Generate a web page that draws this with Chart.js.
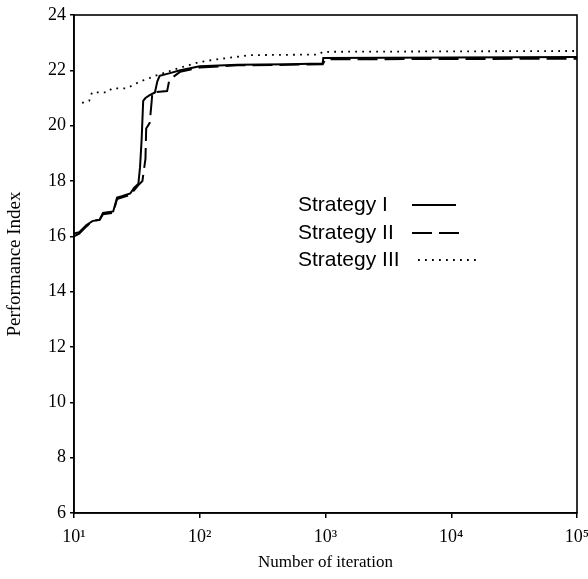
<!DOCTYPE html>
<html>
<head>
<meta charset="utf-8">
<script src="https://cdn.jsdelivr.net/npm/chart.js@4.4.0/dist/chart.umd.min.js"></script>
<style>
  html, body { margin: 0; padding: 0; background: #fff; }
</style>
</head>
<body>
<canvas id="myChart" width="588" height="579"></canvas>
<script>
// Performance index vs number of iteration (log x)

const seriesNames = ["Strategy I", "Strategy II", "Strategy III"];

const iterI = [10, 11, 12.5, 14, 16, 17, 20.5, 22, 24, 28, 30, 32.5, 33.5, 34.5, 35.5, 37, 40, 44, 46, 48, 58, 70, 100, 200, 500, 950, 960, 100000];
const perfI = [16.1, 16.15, 16.4, 16.55, 16.6, 16.85, 16.9, 17.4, 17.45, 17.55, 17.75, 17.9, 18.5, 19.5, 20.9, 21.0, 21.1, 21.2, 21.6, 21.8, 21.9, 22.0, 22.15, 22.2, 22.22, 22.25, 22.45, 22.48];

const iterII = [10, 11, 12.5, 14, 16, 17, 20.5, 22, 28, 32.5, 35, 37, 37.5, 40, 41.5, 42, 55, 57, 61, 70, 100, 200, 500, 950, 1000, 100000];
const perfII = [16.0, 16.1, 16.35, 16.55, 16.6, 16.8, 16.85, 17.35, 17.5, 17.85, 18.0, 18.8, 19.9, 20.1, 20.9, 21.2, 21.25, 21.6, 21.75, 21.95, 22.1, 22.18, 22.2, 22.22, 22.4, 22.42];

const iterIII = [11.6, 13.2, 13.9, 16, 18.3, 20.1, 26.4, 29.5, 33.6, 38.9, 44.2, 70, 100, 138, 252, 880, 950, 100000];
const perfIII = [20.82, 20.9, 21.2, 21.2, 21.2, 21.35, 21.35, 21.47, 21.6, 21.7, 21.8, 22.1, 22.3, 22.4, 22.55, 22.57, 22.67, 22.7];

const xTicks = [10, 100, 1000, 10000, 100000];
const xTickLabels = ["10\u00B9", "10\u00B2", "10\u00B3", "10\u2074", "10\u2075"];
const yTicks = [6, 8, 10, 12, 14, 16, 18, 20, 22, 24];

function toPoints(xs, ys) {
    return xs.map((x, i) => ({ x: x, y: ys[i] }));
}

const serif = "'Liberation Serif', 'Times New Roman', serif";

// box round the plot + legend inside (text first, line sample after it)
const legendRows = [205, 233, 260];
const legendLines = [[412, 456], [412, 460], [418, 478]];

const framePlugin = {
    id: 'frame',
    afterDraw(chart) {
        const ctx = chart.ctx;
        const a = chart.chartArea;
        ctx.save();
        ctx.strokeStyle = '#000';
        ctx.lineWidth = 1.6;
        ctx.strokeRect(a.left, a.top, a.right - a.left, a.bottom - a.top);

        ctx.font = "21px 'Liberation Sans', Arial, sans-serif";
        ctx.fillStyle = '#000';
        ctx.textBaseline = 'middle';
        chart.data.datasets.forEach((ds, i) => {
            const y = legendRows[i];
            ctx.fillText(ds.label, 298, y);
            ctx.beginPath();
            ctx.setLineDash(ds.borderDash || []);
            ctx.lineWidth = ds.borderWidth;
            ctx.moveTo(legendLines[i][0], y);
            ctx.lineTo(legendLines[i][1], y);
            ctx.stroke();
        });
        ctx.restore();
    }
};

const ctx = document.getElementById('myChart').getContext('2d');
const myChart = new Chart(ctx, {
    type: 'line',
    data: {
        datasets: [
            {
                label: seriesNames[0],
                data: toPoints(iterI, perfI),
                borderColor: '#000',
                borderWidth: 2,
                pointRadius: 0,
                tension: 0
            },
            {
                label: seriesNames[1],
                data: toPoints(iterII, perfII),
                borderColor: '#000',
                borderWidth: 2,
                borderDash: [20, 7],
                pointRadius: 0,
                tension: 0
            },
            {
                label: seriesNames[2],
                data: toPoints(iterIII, perfIII),
                borderColor: '#000',
                borderWidth: 1.8,
                borderDash: [1.8, 5.2],
                pointRadius: 0,
                tension: 0
            }
        ]
    },
    options: {
        responsive: false,
        animation: false,
        layout: { padding: { top: 15, right: 11, left: 0, bottom: 0 } },
        plugins: {
            legend: { display: false },
            tooltip: { enabled: false }
        },
        scales: {
            x: {
                type: 'logarithmic',
                min: 10,
                max: 100000,
                afterBuildTicks: scale => { scale.ticks = xTicks.map(v => ({ value: v })); },
                afterFit: scale => {
                    scale.height = 66;
                    scale.paddingLeft = 0;
                    scale.paddingRight = 0;
                },
                ticks: {
                    color: '#000',
                    font: { family: serif, size: 18 },
                    padding: 8,
                    maxRotation: 0,
                    autoSkip: false,
                    callback: (v) => xTickLabels[xTicks.indexOf(v)]
                },
                grid: { drawOnChartArea: false, color: '#000', tickLength: 5, lineWidth: 1.5 },
                border: { color: '#000', width: 1.6 },
                title: {
                    display: true,
                    text: 'Number of iteration',
                    color: '#000',
                    font: { family: serif, size: 17 },
                    padding: { top: 2, bottom: 6 }
                }
            },
            y: {
                min: 6,
                max: 24,
                afterBuildTicks: scale => { scale.ticks = yTicks.map(v => ({ value: v })); },
                afterFit: scale => {
                    scale.width = 74;
                    scale.paddingTop = 0;
                    scale.paddingBottom = 0;
                },
                ticks: {
                    color: '#000',
                    font: { family: serif, size: 18 },
                    padding: 4
                },
                grid: { drawOnChartArea: false, color: '#000', tickLength: 4, lineWidth: 1.5 },
                border: { color: '#000', width: 1.6 },
                title: {
                    display: true,
                    text: 'Performance Index',
                    color: '#000',
                    font: { family: serif, size: 19 },
                    padding: { bottom: 0 }
                }
            }
        }
    },
    plugins: [framePlugin]
});
</script>
</body>
</html>
